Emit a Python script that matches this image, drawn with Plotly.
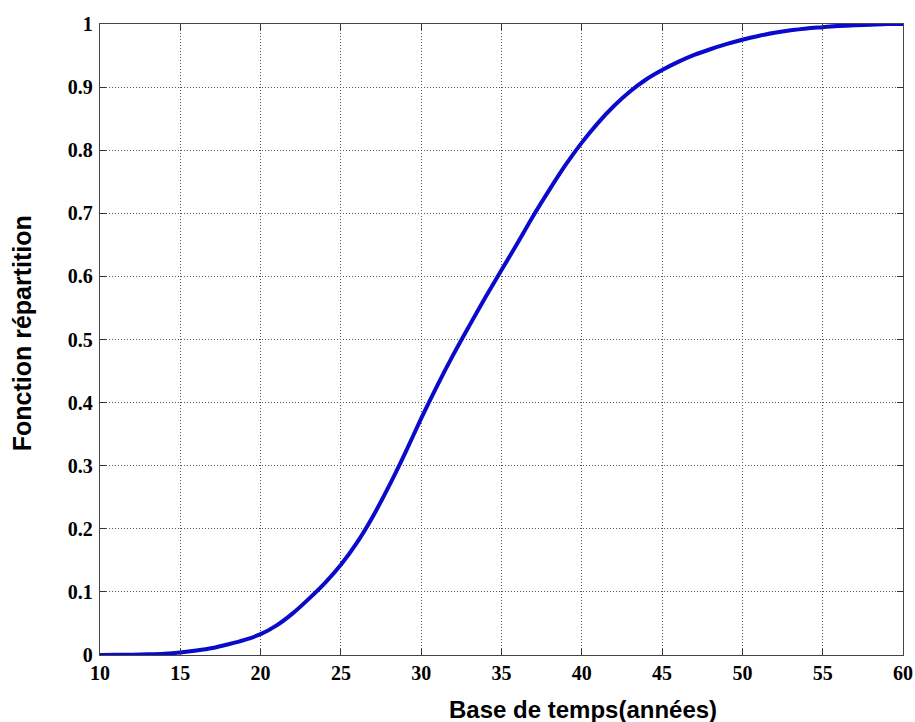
import plotly.graph_objects as go

# Data
temps = [10, 11, 12, 13, 14, 15, 16, 17, 18, 19, 20, 21, 22, 23, 24, 25, 26, 27, 28,
         29, 30, 31, 32, 33, 34, 35, 36, 37, 38, 39, 40, 41, 42, 43, 44, 45, 46, 47,
         48, 49, 50, 51, 52, 53, 54, 55, 56, 57, 58, 59, 60]
repartition = [0.0, 0.0002, 0.0005, 0.001, 0.002, 0.004, 0.007, 0.011, 0.017, 0.024,
               0.033, 0.047, 0.066, 0.089, 0.114, 0.143, 0.178, 0.220, 0.268,
               0.320, 0.375, 0.427, 0.476, 0.522, 0.567, 0.610, 0.653, 0.697, 0.738,
               0.777, 0.812, 0.843, 0.870, 0.893, 0.912, 0.927, 0.940, 0.951,
               0.960, 0.968, 0.975, 0.981, 0.986, 0.990, 0.993, 0.995, 0.997, 0.998,
               0.999, 1.0, 1.0]

x_ticks = [10, 15, 20, 25, 30, 35, 40, 45, 50, 55, 60]
y_ticks = [0, 0.1, 0.2, 0.3, 0.4, 0.5, 0.6, 0.7, 0.8, 0.9, 1]
y_tick_labels = ["0", "0.1", "0.2", "0.3", "0.4", "0.5", "0.6", "0.7", "0.8", "0.9", "1"]
x_title = "Base de temps(années)"
y_title = "Fonction répartition"

fig = go.Figure()
fig.add_trace(go.Scatter(x=temps, y=repartition, mode="lines",
                         line=dict(color="#0a0acc", width=4, shape="spline", smoothing=0.8),
                         showlegend=False, hoverinfo="skip"))

tick_font = dict(family="Liberation Serif", size=20, color="black")
title_font = dict(family="Liberation Sans", size=24, color="black")

common = dict(showline=True, linecolor="#444444", linewidth=1.3, mirror="ticks",
              ticks="inside", ticklen=6, tickcolor="#333333", tickwidth=1,
              showgrid=True, gridcolor="#555555", griddash="1px,2px", gridwidth=1,
              zeroline=False, tickfont=tick_font, automargin=False,
              ticklabeloverflow="allow")

fig.update_xaxes(range=[10, 60], tickvals=x_ticks, ticktext=[f"<b>{v}</b>" for v in x_ticks],
                 **common)
fig.update_yaxes(range=[0, 1], tickvals=y_ticks, ticktext=[f"<b>{t}</b>" for t in y_tick_labels],
                 ticklabelstandoff=2, **common)

fig.add_annotation(text=f"<b>{x_title}</b>", font=title_font, showarrow=False,
                   xref="paper", yref="paper", x=0.6015, y=-0.0856,
                   xanchor="center", yanchor="middle")
fig.add_annotation(text=f"<b>{y_title}</b>", font=dict(family="Liberation Sans", size=25, color="black"),
                   showarrow=False, textangle=-90,
                   xref="paper", yref="paper", x=-0.097, y=0.51,
                   xanchor="center", yanchor="middle")

fig.update_layout(width=915, height=722, margin=dict(l=100, r=12, t=24, b=67),
                  plot_bgcolor="white", paper_bgcolor="white")

fig.write_html("out.html", config={"displayModeBar": False},
               post_script="document.body.style.margin='0';document.body.style.overflow='hidden';")
